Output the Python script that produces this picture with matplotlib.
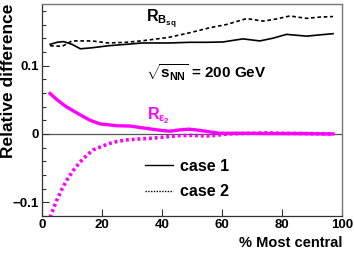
import matplotlib
matplotlib.use("Agg")
import matplotlib.pyplot as plt
from matplotlib.lines import Line2D
from matplotlib.ticker import MultipleLocator

plt.rcParams['font.family'] = ['Liberation Sans', 'DejaVu Sans']
plt.rcParams['font.weight'] = 'bold'
plt.rcParams['mathtext.fontset'] = 'custom'
plt.rcParams['mathtext.rm'] = 'Liberation Sans:bold'
plt.rcParams['mathtext.it'] = 'Liberation Sans:bold'
plt.rcParams['mathtext.bf'] = 'Liberation Sans:bold'
plt.rcParams['mathtext.sf'] = 'Liberation Sans:bold'
plt.rcParams['mathtext.fallback'] = 'cm'

# R_Bsq, case 1 (solid black)
bsq1_x = [2.7, 5, 7.2, 10, 12.8, 16.7, 22.2, 28, 33.3, 42.2, 49.3, 55, 60.4, 64, 67, 72.6, 77, 81.5, 88.2, 93, 97]
bsq1_y = [0.131, 0.134, 0.135, 0.131, 0.1245, 0.126, 0.129, 0.131, 0.133, 0.133, 0.134, 0.134, 0.1345, 0.137, 0.139, 0.136, 0.140, 0.1456, 0.143, 0.145, 0.1466]
# R_Bsq, case 2 (dashed black)
bsq2_x = [2.7, 6.7, 10, 16.7, 22, 28, 33, 42, 49.3, 56, 61.5, 68.2, 73.7, 78, 82.6, 88.2, 93, 97]
bsq2_y = [0.129, 0.128, 0.136, 0.136, 0.133, 0.134, 0.136, 0.141, 0.148, 0.1554, 0.160, 0.1687, 0.165, 0.168, 0.1725, 0.169, 0.171, 0.1716]
# R_eps2, case 1 (solid magenta)
e21_x = [2.7, 5, 8, 12.7, 16, 19.3, 25, 29.3, 35, 40, 42.7, 46, 49, 53, 56, 59, 65, 75, 85, 97]
e21_y = [0.059, 0.050, 0.040, 0.028, 0.020, 0.0147, 0.012, 0.0115, 0.008, 0.005, 0.0040, 0.006, 0.007, 0.005, 0.003, 0.001, 0.001, 0.0005, 0.0005, 0.0]
# R_eps2, case 2 (dotted magenta)
e22_x = [2.7, 4.9, 6.5, 8.2, 10.5, 12.7, 15, 17, 20, 22.7, 25, 28.2, 32, 36, 40, 43, 46, 50, 55, 58, 62, 70, 75, 80, 90, 97]
e22_y = [-0.122, -0.097, -0.082, -0.068, -0.053, -0.041, -0.031, -0.0235, -0.018, -0.0137, -0.011, -0.0088, -0.0075,
         -0.0064, -0.005, -0.0035, -0.0025, -0.002, -0.003, -0.002, 0.0, 0.001, 0.0015, 0.001, 0.0005, 0.0]

xlim = (0, 100)
ylim = (-0.12, 0.19)
magenta = '#ff00ff'

fig = plt.figure(figsize=(3.54, 2.54), dpi=100)
ax = fig.add_axes([42/354, 1-216/254, 300/354, 212/254])

ax.axhline(0, color='#555555', lw=0.9, zorder=1)
ax.plot(bsq1_x, bsq1_y, color='black', lw=1.2, zorder=3)
ax.plot(bsq2_x, bsq2_y, color='black', lw=1.2, ls=(0, (2.2, 1.6)), zorder=3)
ax.plot(e21_x, e21_y, color=magenta, lw=2.4, zorder=3)
ax.plot(e22_x, e22_y, color=magenta, lw=2.6, ls=(0, (0.8, 0.8)), zorder=3)

ax.set_xlim(*xlim)
ax.set_ylim(*ylim)
ax.yaxis.set_minor_locator(MultipleLocator(0.02))
ax.set_yticks([-0.1, 0, 0.1])
ax.set_yticklabels(['\u22120.1', '0', '0.1'])
ax.set_xticks([0, 20, 40, 60, 80, 100])
ax.set_xticklabels(['0', '20', '40', '60', '80', '100'])
ax.tick_params(axis='both', which='both', direction='in', top=False, right=False,
               labelsize=9.5, color='#333333')
ax.tick_params(axis='both', which='major', length=5, width=0.8, pad=2.5)
ax.tick_params(axis='y', which='minor', length=3, width=0.8)
for lab in ax.get_xticklabels() + ax.get_yticklabels():
    lab.set_fontweight('bold')
for s in ['top', 'right']:
    ax.spines[s].set_color('#777777')
    ax.spines[s].set_linewidth(1.0)
for s in ['left', 'bottom']:
    ax.spines[s].set_color('#333333')
    ax.spines[s].set_linewidth(0.9)

ax.text(34.8, 0.163, r'$R_{B_{sq}}$', fontsize=11.5, color='black', ha='left', va='baseline')
ax.text(35.0, 0.0206, r'$R_{\varepsilon_2}$', fontsize=11.5, color=magenta, ha='left', va='baseline')
ax.text(34.8, 0.082, r'$\sqrt{s_{NN}}$ = 200 GeV', fontsize=11, color='black', ha='left', va='baseline')

handles = [Line2D([], [], color='black', lw=1.0),
           Line2D([], [], color='black', lw=1.0, ls=(0, (1, 1)))]
ax.legend(handles, ['case 1', 'case 2'], loc='upper left', bbox_to_anchor=(0.328, 0.292),
          frameon=False, fontsize=11.5, handlelength=1.75, handletextpad=0.45, labelspacing=0.65,
          borderaxespad=0, borderpad=0.3)

fig.text(8.5/354, 1-4/254, 'Relative difference', rotation=90, ha='center', va='top',
         fontsize=12.5, fontweight='bold')
fig.text(342/354, 1-243/254, '% Most central', ha='right', va='center', fontsize=10.5, fontweight='bold')

fig.savefig('out.png', dpi=100)
